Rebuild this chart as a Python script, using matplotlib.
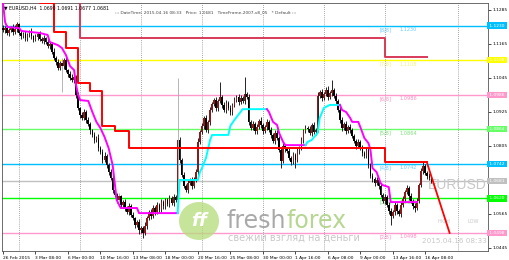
import numpy as np
import matplotlib
matplotlib.use("Agg")
import matplotlib.pyplot as plt
import matplotlib.transforms as mtrans
from matplotlib.patches import Ellipse

# EURUSD H4 closes (bar 0 = 26 Feb 2015)
closes = [
    1.1214, 1.1221, 1.1204, 1.1214, 1.1225, 1.1207, 1.1218, 1.1236, 1.1204, 1.1193,
    1.1200, 1.1186, 1.1197, 1.1207, 1.1193, 1.1179, 1.1190, 1.1200, 1.1183, 1.1176,
    1.1186, 1.1172, 1.1158, 1.1165, 1.1137, 1.1116, 1.1101, 1.1080, 1.1098, 1.1087,
    1.1108, 1.1073, 1.1059, 1.1045, 1.1038, 1.1048, 1.0985, 1.0939, 1.0914, 1.0904,
    1.0925, 1.0897, 1.0883, 1.0861, 1.0844, 1.0826, 1.0833, 1.0798, 1.0784, 1.0756,
    1.0770, 1.0738, 1.0713, 1.0692, 1.0650, 1.0632, 1.0614, 1.0628, 1.0597, 1.0607,
    1.0586, 1.0572, 1.0593, 1.0561, 1.0551, 1.0526, 1.0537, 1.0508, 1.0515, 1.0498,
    1.0522, 1.0551, 1.0572, 1.0558, 1.0586, 1.0572, 1.0597, 1.0579, 1.0607, 1.0593,
    1.0614, 1.0600, 1.0621, 1.0604, 1.0625, 1.0614, 1.0826, 1.0756, 1.0703, 1.0664,
    1.0650, 1.0674, 1.0685, 1.0664, 1.0688, 1.0713, 1.0819, 1.0854, 1.0876, 1.0904,
    1.0861, 1.0890, 1.0932, 1.0953, 1.0967, 1.0939, 1.0964, 1.0978, 1.0950, 1.0932,
    1.0957, 1.0939, 1.0925, 1.0950, 1.0967, 1.0978, 1.0960, 1.0975, 1.0964, 1.0989,
    1.0978, 1.0890, 1.0868, 1.0883, 1.0858, 1.0872, 1.0893, 1.0879, 1.0858, 1.0872,
    1.0890, 1.0861, 1.0844, 1.0823, 1.0851, 1.0833, 1.0791, 1.0752, 1.0805, 1.0794,
    1.0787, 1.0763, 1.0749, 1.0773, 1.0756, 1.0787, 1.0798, 1.0826, 1.0858, 1.0868,
    1.0865, 1.0851, 1.0879, 1.0854, 1.0861, 1.0981, 1.0996, 1.0975, 1.0989, 1.1003,
    1.0978, 1.0992, 1.1003, 1.0981, 1.0964, 1.0932, 1.0897, 1.0868, 1.0883, 1.0858,
    1.0872, 1.0861, 1.0840, 1.0823, 1.0805, 1.0819, 1.0798, 1.0780, 1.0770, 1.0791,
    1.0738, 1.0699, 1.0688, 1.0674, 1.0685, 1.0664, 1.0632, 1.0611, 1.0625, 1.0597,
    1.0575, 1.0558, 1.0572, 1.0597, 1.0575, 1.0565, 1.0597, 1.0618, 1.0643, 1.0657,
    1.0628, 1.0611, 1.0593, 1.0586, 1.0611, 1.0667, 1.0717, 1.0734, 1.0710, 1.0699,
    1.0692, 1.0681,
]
first_open = 1.1221

# wick lengths in pips
up_wick = [
    10, 6, 12, 8, 5, 9, 14, 7, 4, 10, 8, 12, 6, 9, 15, 5, 10, 7, 12, 6,
    9, 5, 11, 7, 6, 13, 8, 10, 6, 18, 7, 12, 5, 9, 14, 6, 8, 10, 5, 12,
    9, 6, 11, 8, 5, 10, 7, 13, 6, 9, 12, 5, 8, 10, 6, 9, 7, 11, 5, 8,
    10, 6, 9, 7, 12, 5, 8, 10, 6, 9, 14, 8, 6, 11, 9, 7, 12, 5, 10, 8,
    6, 9, 12, 7, 10, 8, 219, 9, 6, 11, 8, 12, 6, 10, 7, 9, 14, 6, 11, 8,
    10, 7, 12, 9, 6, 11, 8, 53, 7, 10, 9, 6, 12, 8, 10, 7, 11, 9, 6, 59,
    8, 12, 6, 10, 7, 11, 9, 14, 6, 8, 10, 7, 12, 6, 9, 11, 8, 7, 10, 6,
    9, 12, 7, 10, 6, 11, 8, 9, 7, 12, 8, 10, 6, 11, 9, 14, 8, 10, 7, 9,
    12, 6, 35, 8, 10, 7, 11, 9, 6, 10, 8, 12, 7, 9, 6, 10, 8, 11, 7, 9,
    10, 7, 12, 6, 9, 8, 11, 7, 10, 6, 9, 12, 7, 10, 8, 6, 11, 9, 7, 12,
    8, 10, 6, 9, 12, 7, 10, 14, 8, 6, 9, 5,
]
lo_wick = [
    8, 10, 6, 12, 7, 9, 5, 11, 8, 10, 6, 9, 12, 7, 10, 8, 5, 11, 9, 7,
    10, 8, 6, 12, 9, 7, 11, 8, 6, 91, 9, 7, 12, 8, 6, 10, 9, 7, 11, 8,
    6, 10, 8, 12, 7, 9, 6, 11, 8, 10, 7, 9, 12, 6, 10, 8, 11, 7, 9, 6,
    12, 8, 10, 7, 9, 11, 8, 14, 10, 18, 8, 11, 7, 9, 6, 10, 8, 12, 7, 9,
    10, 7, 9, 6, 11, 8, 6, 10, 8, 9, 7, 10, 8, 12, 6, 9, 11, 7, 8, 10,
    6, 9, 12, 8, 7, 10, 9, 6, 11, 8, 10, 7, 9, 11, 6, 8, 10, 7, 9, 12,
    7, 10, 8, 6, 11, 9, 7, 10, 12, 8, 9, 6, 10, 8, 11, 7, 9, 25, 8, 10,
    7, 9, 11, 6, 30, 8, 10, 7, 9, 6, 10, 8, 12, 7, 9, 6, 8, 10, 7, 9,
    11, 7, 9, 8, 10, 6, 12, 9, 7, 10, 8, 11, 7, 9, 10, 6, 8, 12, 9, 7,
    10, 8, 9, 11, 7, 10, 8, 9, 12, 7, 10, 32, 8, 11, 9, 7, 10, 8, 9, 6,
    12, 8, 10, 14, 7, 9, 8, 10, 6, 9, 7, 6,
]
gray_bars = [29, 57, 86]

# murrey math levels
murrey_names = ["[8/8]", "[7/8]", "[6/8]", "[5/8]", "[4/8]", "[3/8]", "[2/8]"]
murrey_vals = [1.1230, 1.1108, 1.0986, 1.0864, 1.0742, 1.0620, 1.0498]
murrey_cols = ["#00BFFF", "#FFFF00", "#FF99CC", "#66FF66", "#00BFFF", "#00FF00", "#FF99CC"]
murrey_txt = ["#66CCFF", "#F2F27A", "#FF8CC6", "#7CE07C", "#66CCFF", "#66DD66", "#FF8CC6"]
last_price = 1.0681

# trailing line (magenta = down, cyan = up)
trail_x = [0, 1, 2, 8, 9, 18, 22, 23, 27, 29, 31, 33, 35, 36, 37, 38, 42, 44, 46, 48,
           50, 52, 54, 56, 58, 66, 67, 86,
           87, 96, 97, 98, 100, 102, 103, 111, 112, 114, 117, 118, 130,
           131, 133, 135, 136, 138, 139, 149,
           150, 152, 155, 156, 157, 158, 161, 166,
           167, 169, 171, 172, 175, 176, 178, 180, 181, 182, 184, 186, 187, 190, 191, 204]
trail_y = [1.1310, 1.1243, 1.1225, 1.1221, 1.1211, 1.1204, 1.1197, 1.1172, 1.1161, 1.1151,
           1.1126, 1.1087, 1.1073, 1.1020, 1.0985, 1.0967, 1.0964, 1.0925, 1.0890, 1.0868,
           1.0837, 1.0798, 1.0738, 1.0614, 1.0586, 1.0586, 1.0568, 1.0568,
           1.0685, 1.0685, 1.0713, 1.0727, 1.0763, 1.0826, 1.0844, 1.0844, 1.0876, 1.0897,
           1.0925, 1.0935, 1.0935,
           1.0925, 1.0890, 1.0879, 1.0851, 1.0819, 1.0808, 1.0808,
           1.0819, 1.0826, 1.0851, 1.0904, 1.0921, 1.0939, 1.0950, 1.0950,
           1.0932, 1.0925, 1.0904, 1.0890, 1.0890, 1.0872, 1.0833, 1.0815, 1.0791, 1.0727,
           1.0713, 1.0674, 1.0667, 1.0660, 1.0607, 1.0607]
trail_turns = [0, 86, 130, 149, 166, 204]
trail_cols = ["#FF00FF", "#00FFFF", "#FF00FF", "#00FFFF", "#FF00FF"]

# red stop line and higher timeframe line
stop_x = [18, 18, 25, 31, 37, 43, 49, 55, 62, 188, 209]
stop_y = [1.1400, 1.1310, 1.1207, 1.1151, 1.1027, 1.0999, 1.0876, 1.0858, 1.0798, 1.0749, 1.0749]
htf_x = [38, 38, 188, 209]
htf_y = [1.1400, 1.1186, 1.1119, 1.1119]
proj_x = [209, 220]
proj_y = [1.0742, 1.0498]

price_ticks = [1.1285, 1.1165, 1.1045, 1.0925, 1.0805, 1.0685, 1.0565, 1.0445]
date_labels = ["26 Feb 2015", "3 Mar 08:00", "6 Mar 00:00", "10 Mar 16:00", "13 Mar 08:00",
               "18 Mar 00:00", "20 Mar 16:00", "25 Mar 08:00", "30 Mar 00:00", "1 Apr 16:00",
               "6 Apr 08:00", "9 Apr 00:00", "13 Apr 16:00", "16 Apr 08:00"]
grid_bars = [8, 38, 68, 98, 128, 158, 188, 224]

fig = plt.figure(figsize=(5.1, 2.6), dpi=100)
ax = fig.add_axes([2 / 510, 9 / 260, 486 / 510, 248 / 260])
ax.set_xlim(-0.5, 238.9)
ax.set_ylim(1.04343, 1.13097)

for g in grid_bars:
    ax.axvline(g, color="#555555", lw=0.5, ls=(0, (1, 2)), zorder=1)

for v, c in zip(murrey_vals, murrey_cols):
    ax.axhline(v, color=c, lw=1.0, zorder=2)
ax.axhline(last_price, color="#C0C0C0", lw=1.0, zorder=2)

# candles
c = np.array(closes)
o = np.r_[first_open, c[:-1]]
h = np.maximum(o, c) + np.array(up_wick) / 1e4
l = np.minimum(o, c) - np.array(lo_wick) / 1e4
idx = np.arange(len(c))
wick_col = ["#AAAAAA" if i in gray_bars else "black" for i in idx]
ax.vlines(idx, l, h, colors=wick_col, lw=0.6, zorder=4)
body = np.where(np.abs(c - o) < 0.0002, 0.0002, np.abs(c - o))
bull = c >= o
ax.bar(idx[bull], body[bull], bottom=o[bull], width=0.8, color="#8B1A1A", lw=0, zorder=5)
ax.bar(idx[~bull], body[~bull], bottom=c[~bull], width=0.8, color="black", lw=0, zorder=5)

# trailing line
tx = np.array(trail_x)
ty = np.array(trail_y)
for k in range(len(trail_cols)):
    m = (tx >= trail_turns[k]) & (tx <= trail_turns[k + 1])
    ax.plot(tx[m], ty[m], color=trail_cols[k], lw=1.4, zorder=6)

ax.plot(stop_x, stop_y, color="#FF0000", lw=1.4, drawstyle="steps-post", zorder=6)
ax.plot(htf_x, htf_y, color="#D83A58", lw=1.4, drawstyle="steps-post", zorder=6)
ax.plot(proj_x, proj_y, color="#FF0000", lw=1.3, zorder=6)

# level labels
for name, v, tc in zip(murrey_names, murrey_vals, murrey_txt):
    ax.text(185.5, v - 0.0005, name, fontsize=3.6, color=tc, va="top", ha="left", zorder=3)
    ax.text(195.5, v - 0.0005, f"{v:.4f}", fontsize=3.6, color=tc, va="top", ha="left", zorder=3)

# right axis (1.0685 sits under the last price box)
ax.yaxis.tick_right()
ax.set_yticks(price_ticks)
ax.set_yticklabels(["" if abs(t - last_price) < 0.0006 else f"{t:.4f}" for t in price_ticks])
ax.tick_params(axis="y", labelsize=3.2, length=2, width=0.5, pad=1.5)
ax.set_xticks([16 * k for k in range(len(date_labels))])
ax.set_xticklabels(date_labels, ha="left")
ax.tick_params(axis="x", labelsize=3.2, length=2, width=0.5, pad=1.5)
for sp in ax.spines.values():
    sp.set_linewidth(0.6)
    sp.set_color("#555555")

trans = mtrans.blended_transform_factory(ax.transAxes, ax.transData)
for v, col in list(zip(murrey_vals, murrey_cols)) + [(last_price, "#C0C0C0")]:
    ax.text(1.001, v, f" {v:.4f} ", transform=trans, fontsize=3.2, color="white",
            va="center", ha="left", clip_on=False, zorder=10,
            bbox=dict(boxstyle="square,pad=0.25", fc=col, ec="none"))

# texts
ax.text(0.004, 0.992, "▼ EURUSD,H4  1.0690 1.0691 1.0677 1.0681", transform=ax.transAxes,
        fontsize=3.3, va="top", ha="left", color="black", zorder=10)
ax.text(0.233, 0.962, "::: DateTime: 2015.04.16 08:33   Price: 1.0681   TimeFrame-2007-v8_05   * Default :::",
        transform=ax.transAxes, fontsize=3.1, va="center", ha="left", color="#444444", zorder=10)
ax.text(0.997, 0.265, "EURUSD", transform=ax.transAxes, fontsize=10, color="#C8C8C8",
        va="center", ha="right", family="Liberation Sans", zorder=3)
ax.text(0.897, 0.12, "HIGH", transform=ax.transAxes, fontsize=3.6, color="#C8C8C8", va="center", zorder=3)
ax.text(0.958, 0.12, "LOW", transform=ax.transAxes, fontsize=3.6, color="#C8C8C8", va="center", zorder=3)
ax.text(0.997, 0.04, "2015.04.16 08:33", transform=ax.transAxes, fontsize=5.2, color="#C8C8C8",
        va="center", ha="right", zorder=3)

# freshforex watermark
fig.patches.append(Ellipse((199 / 510, 1 - 221 / 260), 40 / 510, 38 / 260, transform=fig.transFigure,
                           fc="#B5DC7A", ec="none", alpha=0.75, zorder=3))
fig.text(199 / 510, 1 - 221 / 260, "ff", fontsize=13, color="white", ha="center", va="center",
         style="italic", fontweight="bold", zorder=4)
t1 = fig.text(227 / 510, 1 - 221 / 260, "fresh", fontsize=17, color="#9A9A9A", ha="left",
              va="center", alpha=0.85, zorder=4)
fig.canvas.draw()
bb = t1.get_window_extent()
fig.text(bb.x1 / 510, 1 - 221 / 260, "forex", fontsize=17, color="#A9CF7E", ha="left",
         va="center", alpha=0.85, zorder=4)
fig.text(228 / 510, 1 - 238 / 260, "свежий взгляд на деньги", fontsize=7, color="#C8C8C8",
         ha="left", va="center", zorder=4)

fig.savefig("out.png", dpi=100, facecolor="white")
